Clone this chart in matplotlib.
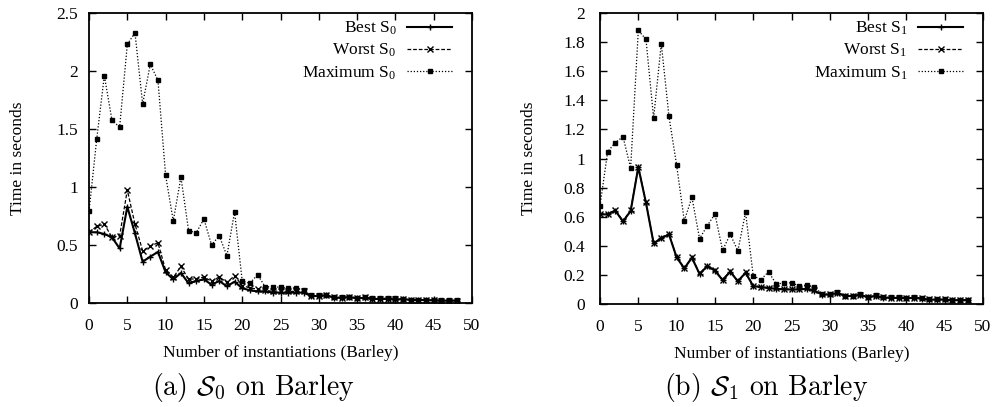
import matplotlib
matplotlib.use("Agg")
import matplotlib.pyplot as plt

plt.rcParams['font.family'] = ['Liberation Serif', 'DejaVu Serif']
plt.rcParams['mathtext.fontset'] = 'custom'
plt.rcParams['mathtext.rm'] = 'Liberation Serif'
plt.rcParams['mathtext.it'] = 'Liberation Serif:italic'

x = list(range(49))

# panel (a): S0 on Barley
best_s0 = [0.61, 0.61, 0.595, 0.566, 0.47, 0.83, 0.60, 0.356, 0.40, 0.44,
           0.265, 0.204, 0.259, 0.17, 0.19, 0.204, 0.158, 0.19, 0.144, 0.184,
           0.127, 0.11, 0.10, 0.10, 0.09, 0.09, 0.09, 0.09, 0.09, 0.06,
           0.06, 0.065, 0.045, 0.045, 0.05, 0.04, 0.045, 0.035, 0.035, 0.035,
           0.03, 0.033, 0.026, 0.026, 0.025, 0.022, 0.02, 0.02, 0.02]
worst_s0 = [0.61, 0.66, 0.68, 0.566, 0.58, 0.974, 0.68, 0.45, 0.49, 0.52,
            0.284, 0.22, 0.316, 0.204, 0.21, 0.224, 0.187, 0.225, 0.178, 0.235,
            0.15, 0.13, 0.12, 0.11, 0.10, 0.105, 0.10, 0.10, 0.10, 0.062,
            0.062, 0.068, 0.048, 0.047, 0.052, 0.042, 0.048, 0.037, 0.037, 0.037,
            0.032, 0.035, 0.027, 0.027, 0.026, 0.023, 0.021, 0.021, 0.021]
max_s0 = [0.79, 1.41, 1.96, 1.575, 1.517, 2.23, 2.33, 1.716, 2.058, 1.92,
          1.10, 0.707, 1.086, 0.623, 0.606, 0.724, 0.50, 0.58, 0.408, 0.785,
          0.19, 0.17, 0.244, 0.14, 0.14, 0.135, 0.13, 0.13, 0.11, 0.065,
          0.065, 0.07, 0.05, 0.05, 0.054, 0.045, 0.05, 0.04, 0.04, 0.04,
          0.04, 0.035, 0.03, 0.03, 0.03, 0.025, 0.025, 0.025, 0.022]

# panel (b): S1 on Barley
best_s1 = [0.616, 0.616, 0.641, 0.568, 0.639, 0.94, 0.696, 0.417, 0.451, 0.479,
           0.321, 0.245, 0.318, 0.206, 0.261, 0.229, 0.165, 0.222, 0.156, 0.215,
           0.124, 0.115, 0.11, 0.105, 0.10, 0.10, 0.10, 0.105, 0.09, 0.065,
           0.065, 0.075, 0.055, 0.055, 0.062, 0.046, 0.055, 0.044, 0.042, 0.042,
           0.04, 0.042, 0.037, 0.03, 0.03, 0.03, 0.026, 0.026, 0.026]
worst_s1 = [0.62, 0.62, 0.645, 0.572, 0.643, 0.945, 0.70, 0.42, 0.455, 0.482,
            0.325, 0.248, 0.322, 0.21, 0.264, 0.232, 0.168, 0.225, 0.159, 0.218,
            0.127, 0.118, 0.113, 0.108, 0.103, 0.103, 0.103, 0.108, 0.093, 0.067,
            0.067, 0.077, 0.057, 0.057, 0.064, 0.048, 0.057, 0.046, 0.044, 0.044,
            0.042, 0.044, 0.039, 0.032, 0.032, 0.032, 0.028, 0.028, 0.028]
max_s1 = [0.674, 1.047, 1.109, 1.15, 0.935, 1.88, 1.82, 1.278, 1.79, 1.29,
          0.955, 0.573, 0.733, 0.449, 0.538, 0.619, 0.369, 0.479, 0.366, 0.63,
          0.195, 0.167, 0.222, 0.137, 0.145, 0.145, 0.126, 0.13, 0.115, 0.069,
          0.069, 0.08, 0.057, 0.057, 0.066, 0.048, 0.06, 0.046, 0.045, 0.045,
          0.042, 0.046, 0.04, 0.032, 0.033, 0.033, 0.028, 0.028, 0.028]

panels = [
    ([0.0891, 0.2555, 0.3834, 0.7125], best_s0, worst_s0, max_s0, '0', 2.5, 0.5,
     r'(a) $\mathcal{S}_0$ on Barley', 0.254, 8),
    ([0.6006, 0.2530, 0.3834, 0.7150], best_s1, worst_s1, max_s1, '1', 2.0, 0.2,
     r'(b) $\mathcal{S}_1$ on Barley', 0.767, 11),
]

fig = plt.figure(figsize=(9.99, 4.07), dpi=100)

for rect, best, worst, mx, idx, ymax, ystep, caption, cx, ypad in panels:
    ax = fig.add_axes(rect)
    ax.plot(x, best, color='black', linestyle='-', linewidth=1.5, marker='+',
            markersize=5, markeredgewidth=1.0, label=r'Best $\mathrm{S}_' + idx + '$')
    ax.plot(x, worst, color='black', linestyle=(0, (3, 1.5)), linewidth=0.9, marker='x',
            markersize=4, markeredgewidth=1.0, label=r'Worst $\mathrm{S}_' + idx + '$')
    ax.plot(x, mx, color='black', linestyle=(0, (1, 1.5)), linewidth=0.9, marker='s',
            markersize=3.5, label=r'Maximum $\mathrm{S}_' + idx + '$')
    ax.set_xlim(0, 50)
    ax.set_ylim(0, ymax)
    ax.set_xticks(range(0, 51, 5))
    n = int(round(ymax / ystep))
    yt = [round(i * ystep, 1) for i in range(n + 1)]
    ax.set_yticks(yt)
    ax.set_yticklabels([('%g' % v) for v in yt])
    ax.tick_params(direction='in', top=True, right=True, length=5, width=1,
                   labelsize=12.5)
    ax.tick_params(axis='x', pad=11)
    ax.tick_params(axis='y', pad=ypad)
    for s in ax.spines.values():
        s.set_linewidth(1.3)
    ax.set_xlabel('Number of instantiations (Barley)', fontsize=12.5, labelpad=8)
    ax.set_ylabel('Time in seconds', fontsize=12.5, labelpad=22 - ypad + 8)
    ax.legend(loc='upper right', bbox_to_anchor=(1 - 13 / 383, 1.0),
              markerfirst=False, frameon=False, fontsize=12.5,
              handlelength=2.6, labelspacing=0.27, borderaxespad=0,
              handletextpad=0.6)
    fig.text(cx, 0.047, caption, ha='center', va='center', fontsize=20,
             family='cmr10', math_fontfamily='cm')

plt.savefig('out.png', dpi=100)
